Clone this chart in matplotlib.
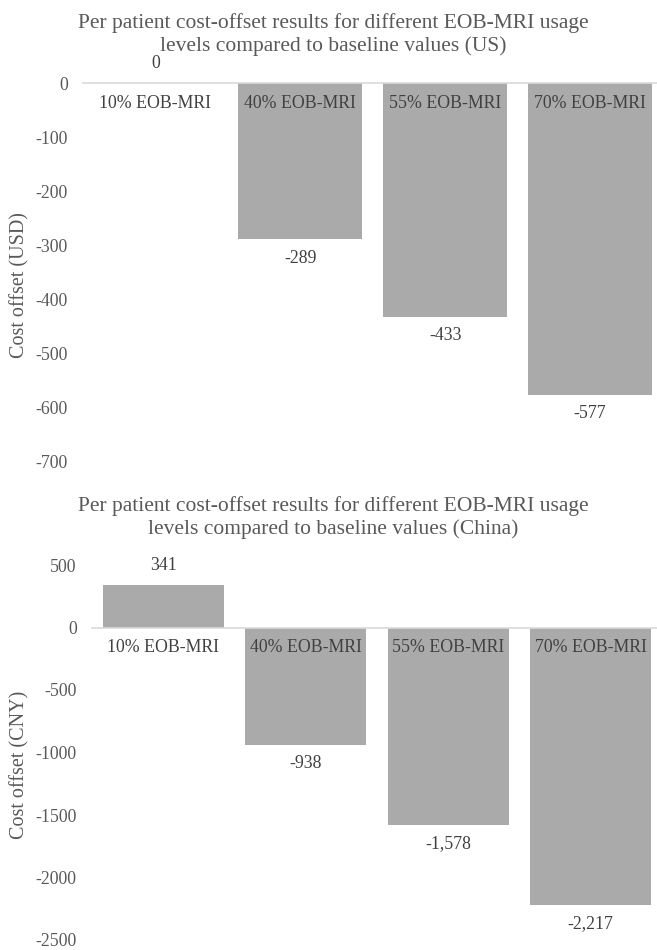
import matplotlib
matplotlib.use('Agg')
import matplotlib.pyplot as plt

plt.rcParams['font.family'] = ['Liberation Serif', 'DejaVu Serif']

categories = ['10% EOB-MRI', '40% EOB-MRI', '55% EOB-MRI', '70% EOB-MRI']
us_values = [0, -289, -433, -577]
china_values = [341, -938, -1578, -2217]
us_ticks = [0, -100, -200, -300, -400, -500, -600, -700]
china_ticks = [500, 0, -500, -1000, -1500, -2000, -2500]

bar_color = '#aaaaaa'
tick_color = '#595959'
text_color = '#404040'

W, H = 657, 950
fig = plt.figure(figsize=(W / 100, H / 100), dpi=100)


def px(x0, y_top, x1, y_bot):
    # pixel box -> figure fraction
    return [x0 / W, 1 - y_bot / H, (x1 - x0) / W, (y_bot - y_top) / H]


def draw(ax, values, ticks, width, ylabel, title, title_y, ylabel_y):
    xs = range(len(categories))
    ax.bar(xs, values, width=width, color=bar_color, zorder=2)
    ax.set_xlim(-0.5, len(categories) - 0.5)
    ax.set_ylim(min(ticks), max(ticks))
    ax.set_yticks(ticks)
    ax.set_yticklabels([str(t) for t in ticks])
    ax.set_xticks([])
    for s in ax.spines.values():
        s.set_visible(False)
    ax.tick_params(axis='y', length=0, pad=11, labelsize=12.8, labelcolor=tick_color)
    ax.axhline(0, color='#d9d9d9', lw=1.2, zorder=3, clip_on=False)
    for i, (c, v) in enumerate(zip(categories, values)):
        ax.annotate(c, (i, 0), xytext=(0, -20), textcoords='offset pixels',
                    ha='center', va='center', fontsize=12.8, color=text_color, zorder=4)
        off = 19 if v >= 0 else -19
        ax.annotate(f'{v:,}', (i, v), xytext=(0, off), textcoords='offset pixels',
                    ha='center', va='center', fontsize=12.8, color=text_color, zorder=4)
    fig.text(20 / W, 1 - ylabel_y / H, ylabel, rotation=90, ha='center', va='center',
             fontsize=14.5, color=tick_color)
    fig.text(333 / W, 1 - title_y / H, title, ha='center', va='top', fontsize=15.5,
             color=tick_color, linespacing=1.2)


ax1 = fig.add_axes(px(83, 83, 662.5, 461))
draw(ax1, us_values, us_ticks, 0.855, 'Cost offset (USD)',
     'Per patient cost-offset results for different EOB-MRI usage\n'
     'levels compared to baseline values (US)', 13, 285)

ax2 = fig.add_axes(px(92, 565, 662, 940))
draw(ax2, china_values, china_ticks, 0.85, 'Cost offset (CNY)',
     'Per patient cost-offset results for different EOB-MRI usage\n'
     'levels compared to baseline values (China)', 496, 765)

fig.savefig('out.png', dpi=100)
